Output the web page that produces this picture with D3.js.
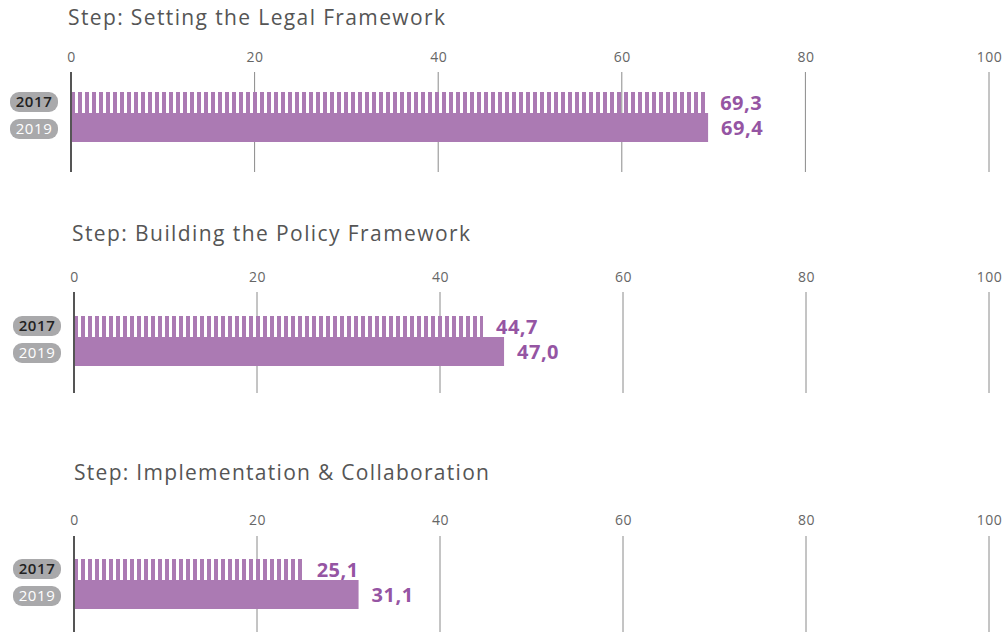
<!DOCTYPE html>
<html>
<head>
<meta charset="utf-8">
<script src="https://cdn.jsdelivr.net/npm/d3@7"></script>
<style>
  body { margin: 0; background: #fff; }
  svg { display: block; font-family: "Open Sans", "Noto Sans", sans-serif; }
</style>
</head>
<body>
<div id="chart"></div>
<script>
// data
var steps = ["Step: Setting the Legal Framework", "Step: Building the Policy Framework", "Step: Implementation & Collaboration"];
var years = ["2017", "2019"];
var values2017 = [69.3, 44.7, 25.1];
var values2019 = [69.4, 47.0, 31.1];
var tickValues = [0, 20, 40, 60, 80, 100];

var svgWidth = 1003;
var svgHeight = 632;

// per-panel layout
var panels = [
  { titleX: 68, titleY: 25, titleW: 377, tickY: 62, gridTop: 72, gridBottom: 172, barTop: 92, x0: 71, x1: 989 },
  { titleX: 72, titleY: 241, titleW: 398, tickY: 282, gridTop: 292, gridBottom: 393, barTop: 316, x0: 74, x1: 989 },
  { titleX: 74, titleY: 480, titleW: 415, tickY: 525, gridTop: 536, gridBottom: 640, barTop: 559, x0: 74, x1: 989 }
];

var barColor = "#ab7ab3";
var labelColor = "#9555a3";
var pillColor = "#a9a9ab";

var svg = d3.select("#chart")
  .append("svg")
  .attr("width", svgWidth)
  .attr("height", svgHeight);

// striped fill for the 2017 bars
var defs = svg.append("defs");
var pattern = defs.append("pattern")
  .attr("id", "stripes")
  .attr("patternUnits", "userSpaceOnUse")
  .attr("width", 7)
  .attr("height", 10);
pattern.append("rect")
  .attr("x", 0)
  .attr("y", 0)
  .attr("width", 4)
  .attr("height", 10)
  .attr("fill", barColor);

panels.forEach(function(p, i) {
  var x = d3.scaleLinear()
    .domain([0, 100])
    .range([0, p.x1 - p.x0]);

  // title
  svg.append("text")
    .attr("x", p.titleX)
    .attr("y", p.titleY)
    .attr("font-size", "21px")
    .attr("fill", "#555")
    .attr("textLength", p.titleW)
    .attr("lengthAdjust", "spacing")
    .text(steps[i]);

  var g = svg.append("g")
    .attr("transform", `translate(${p.x0}, 0)`);

  // top axis labels
  var axis = d3.axisTop(x)
    .tickValues(tickValues)
    .tickSize(0)
    .tickPadding(0);
  var ax = g.append("g")
    .attr("transform", `translate(0, ${p.tickY})`)
    .call(axis);
  ax.select(".domain").remove();
  ax.selectAll("text")
    .attr("font-family", "\"Open Sans\", sans-serif")
    .attr("font-size", "14px")
    .attr("letter-spacing", "0.5px")
    .attr("fill", "#666");

  // gridlines
  g.append("g").selectAll("line")
    .data(tickValues)
    .enter()
    .append("line")
    .attr("x1", d => x(d))
    .attr("x2", d => x(d))
    .attr("y1", p.gridTop)
    .attr("y2", p.gridBottom)
    .attr("stroke", d => d === 0 ? "#555" : "#8a8a8a")
    .attr("stroke-width", d => d === 0 ? 2 : 1);

  // bars: 2017 is thinner and striped
  var rows = [
    { year: "2017", value: values2017[i], top: p.barTop, h: 21 },
    { year: "2019", value: values2019[i], top: p.barTop + 21, h: 29 }
  ];

  g.selectAll("rect.bar")
    .data(rows)
    .enter()
    .append("rect")
    .attr("class", "bar")
    .attr("x", x(0) + 1)
    .attr("y", d => d.top)
    .attr("width", d => x(d.value) - x(0) - 1)
    .attr("height", d => d.h)
    .attr("fill", d => d.year === "2017" ? "url(#stripes)" : barColor);

  // value labels
  g.selectAll("text.val")
    .data(rows)
    .enter()
    .append("text")
    .attr("class", "val")
    .attr("x", d => x(d.value) + 13)
    .attr("y", d => d.top + d.h / 2)
    .attr("dy", "0.35em")
    .attr("font-size", "20px")
    .attr("font-weight", "bold")
    .attr("letter-spacing", "0.5px")
    .attr("fill", labelColor)
    .text(d => d3.format(".1f")(d.value).replace(".", ","));

  // year pills
  var pillCenters = [p.barTop + 10, p.barTop + 37];
  years.forEach(function(yr, j) {
    var cy = pillCenters[j];
    svg.append("rect")
      .attr("x", p.x0 - 61)
      .attr("y", cy - 10)
      .attr("width", 48)
      .attr("height", 20)
      .attr("rx", 9)
      .attr("fill", pillColor);
    svg.append("text")
      .attr("x", p.x0 - 37)
      .attr("y", cy)
      .attr("dy", "0.36em")
      .attr("text-anchor", "middle")
      .attr("font-size", "15px")
      .attr("letter-spacing", "0.6px")
      .attr("font-weight", j === 0 ? "600" : "400")
      .attr("fill", j === 0 ? "#222" : "#fff")
      .text(yr);
  });
});
</script>
</body>
</html>
